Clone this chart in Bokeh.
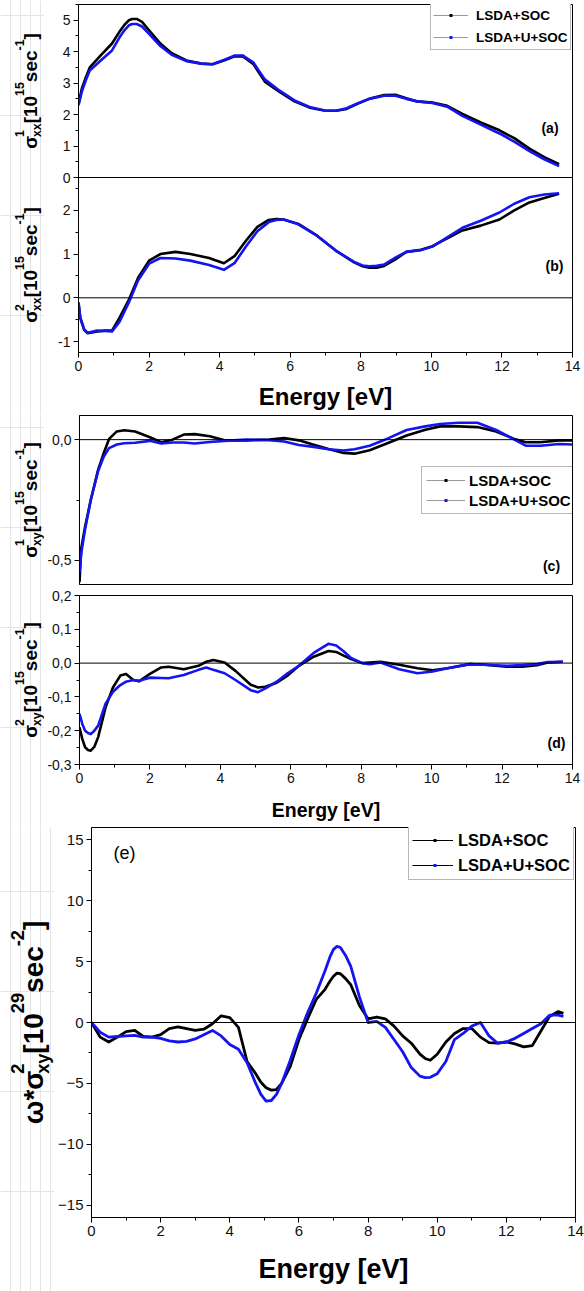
import math
from bokeh.plotting import figure
from bokeh.models import (Label, Span, Legend, LegendItem, ColumnDataSource,
                          FixedTicker, Range1d, CustomJSTickFormatter)
from bokeh.layouts import column, row
from bokeh.core.properties import value
from bokeh.embed import file_html
from bokeh.resources import INLINE

FONT = "Liberation Sans"
BLACK = "#000000"
BLUE = "#1414f0"
SERIES = ["LSDA+SOC", "LSDA+U+SOC"]
NAN = float("nan")

# ---------------- data ----------------
# (a) sigma1_xx
energy_a = [0, 0.1, 0.21, 0.32, 0.63, 0.95, 1.16, 1.3, 1.43, 1.52, 1.65, 1.8, 2.0, 2.32, 2.64,
            3.06, 3.48, 3.8, 4.12, 4.43, 4.65, 4.96, 5.28, 5.7, 6.12, 6.55, 6.97, 7.3, 7.6, 7.92,
            8.24, 8.66, 8.98, 9.29, 9.6, 10.03, 10.45, 10.88, 11.4, 11.93, 12.35, 12.78, 13.2,
            13.62]
a_lsda = [2.34, 2.85, 3.19, 3.5, 3.88, 4.26, 4.63, 4.85, 5.0, 5.04, 5.04, 4.95, 4.68, 4.26, 3.95,
          3.72, 3.62, 3.6, 3.72, 3.85, 3.86, 3.6, 3.05, 2.72, 2.42, 2.22, 2.13, 2.12, 2.18, 2.35,
          2.5, 2.62, 2.63, 2.52, 2.42, 2.38, 2.28, 2.02, 1.75, 1.5, 1.25, 0.92, 0.65, 0.42]
a_lsdau = [2.3, 2.75, 3.1, 3.4, 3.72, 4.04, 4.45, 4.68, 4.84, 4.88, 4.88, 4.8, 4.57, 4.18, 3.9,
           3.7, 3.62, 3.6, 3.74, 3.88, 3.88, 3.65, 3.12, 2.76, 2.45, 2.24, 2.13, 2.12, 2.2, 2.36,
           2.5, 2.6, 2.6, 2.5, 2.42, 2.37, 2.25, 1.96, 1.68, 1.4, 1.14, 0.84, 0.58, 0.36]

# (b) sigma2_xx
energy_b = [0, 0.05, 0.16, 0.26, 0.53, 0.74, 0.95, 1.16, 1.43, 1.69, 2.0, 2.32, 2.75, 3.17, 3.7,
            4.12, 4.43, 4.75, 5.07, 5.39, 5.6, 5.81, 6.23, 6.76, 7.29, 7.81, 8.05, 8.24, 8.45, 8.66,
            8.98, 9.29, 9.71, 10.03, 10.45, 10.88, 11.4, 11.93, 12.35, 12.78, 13.2, 13.62]
b_lsda = [-0.12, -0.46, -0.73, -0.81, -0.77, -0.75, -0.75, -0.46, -0.04, 0.46, 0.85, 1.0, 1.05,
          1.0, 0.91, 0.79, 0.96, 1.31, 1.62, 1.78, 1.8, 1.79, 1.69, 1.42, 1.08, 0.81, 0.72, 0.69,
          0.69, 0.73, 0.88, 1.05, 1.1, 1.18, 1.36, 1.54, 1.65, 1.79, 2.0, 2.18, 2.28, 2.38]
b_lsdau = [-0.1, -0.45, -0.72, -0.8, -0.75, -0.76, -0.77, -0.55, -0.1, 0.4, 0.78, 0.91, 0.9,
           0.85, 0.75, 0.64, 0.8, 1.18, 1.52, 1.73, 1.78, 1.79, 1.68, 1.42, 1.08, 0.82, 0.74, 0.72,
           0.73, 0.76, 0.92, 1.05, 1.09, 1.17, 1.38, 1.6, 1.76, 1.95, 2.15, 2.3, 2.36, 2.39]

# (c) sigma1_xy
energy_c = [0, 0.05, 0.16, 0.32, 0.53, 0.69, 0.84, 1.06, 1.27, 1.58, 2.0, 2.32, 2.64, 2.96, 3.27,
            3.7, 4.12, 4.75, 5.39, 5.81, 6.23, 6.65, 7.07, 7.5, 7.81, 8.24, 8.76, 9.29, 9.82,
            10.24, 10.77, 11.3, 11.83, 12.35, 12.67, 13.1, 13.62, 14.0]
c_lsda = [-0.59, -0.45, -0.36, -0.25, -0.124, -0.055, 0.003, 0.034, 0.039, 0.034, 0.01, -0.011,
          0.0, 0.021, 0.023, 0.014, -0.003, -0.003, 0.0, 0.007, -0.003, -0.021, -0.039, -0.055,
          -0.058, -0.044, -0.014, 0.017, 0.041, 0.055, 0.055, 0.052, 0.034, 0.003, -0.011,
          -0.011, -0.003, -0.003]
c_lsdau = [-0.55, -0.47, -0.37, -0.25, -0.13, -0.07, -0.035, -0.02, -0.015, -0.013, -0.005,
           -0.016, -0.012, -0.012, -0.016, -0.01, -0.005, 0.0, -0.002, -0.008, -0.022, -0.03,
           -0.04, -0.045, -0.04, -0.025, 0.005, 0.04, 0.055, 0.065, 0.07, 0.07, 0.04, 0.0,
           -0.025, -0.025, -0.018, -0.02]

# (d) sigma2_xy
energy_d = [0, 0.08, 0.16, 0.24, 0.32, 0.42, 0.53, 0.74, 0.95, 1.16, 1.32, 1.53, 1.69, 2.0, 2.32,
            2.53, 2.96, 3.38, 3.6, 3.8, 4.12, 4.43, 4.86, 5.07, 5.28, 5.6, 5.91, 6.23, 6.65, 7.07,
            7.29, 7.5, 7.71, 8.03, 8.24, 8.55, 9.08, 9.6, 10.03, 10.45, 11.09, 11.5, 12.14, 12.57,
            12.99, 13.3, 13.73]
d_lsda = [-0.19, -0.225, -0.249, -0.257, -0.259, -0.248, -0.219, -0.131, -0.072, -0.037, -0.032,
          -0.05, -0.054, -0.032, -0.013, -0.011, -0.018, -0.008, 0.004, 0.009, 0.002, -0.023,
          -0.064, -0.072, -0.07, -0.058, -0.037, -0.008, 0.019, 0.036, 0.033, 0.022, 0.012, 0.0,
          0.002, 0.004, -0.005, -0.015, -0.021, -0.015, -0.003, -0.005, -0.011, -0.011, -0.006,
          0.002, 0.004]
d_lsdau = [-0.15, -0.18, -0.2, -0.207, -0.21, -0.2, -0.185, -0.12, -0.085, -0.065, -0.055, -0.05,
           -0.052, -0.043, -0.044, -0.045, -0.035, -0.02, -0.013, -0.02, -0.03, -0.05, -0.08,
           -0.086, -0.075, -0.055, -0.03, -0.008, 0.03, 0.057, 0.052, 0.035, 0.015, 0.0, -0.003,
           0.002, -0.018, -0.03, -0.025, -0.015, -0.003, -0.005, -0.008, -0.006, -0.003, 0.003,
           0.004]

# (e) omega * sigma2_xy
energy_e = [0, 0.25, 0.5, 0.75, 1.0, 1.25, 1.5, 1.75, 2.0, 2.25, 2.5, 2.75, 3.0, 3.25, 3.5, 3.75,
            4.0, 4.25, 4.5, 4.75, 4.9, 5.05, 5.2, 5.35, 5.5, 5.75, 6.0, 6.25, 6.5, 6.75, 6.9, 7.0,
            7.1, 7.2, 7.35, 7.5, 7.75, 8.0, 8.25, 8.5, 8.75, 9.0, 9.25, 9.5, 9.65, 9.8, 10.0,
            10.25, 10.5, 10.75, 11.0, 11.25, 11.5, 11.75, 12.0, 12.25, 12.5, 12.75, 13.0, 13.25,
            13.5, 13.65]
e_lsda = [0, -1.2, -1.6, -1.2, -0.75, -0.65, -1.15, -1.2, -1.0, -0.5, -0.35, -0.5, -0.65, -0.55,
          -0.1, 0.55, 0.4, -0.4, -3.2, -4.2, -4.9, -5.35, -5.55, -5.5, -5.0, -3.6, -1.4, 0.3, 1.9,
          2.7, 3.4, 3.8, 4.05, 4.0, 3.6, 3.1, 1.4, 0.3, 0.45, 0.3, -0.3, -1.1, -1.7, -2.6, -2.95,
          -3.1, -2.6, -1.6, -0.9, -0.5, -0.5, -1.2, -1.65, -1.7, -1.6, -1.75, -2.0, -1.9, -0.7,
          0.5, 0.9, 0.75]
e_lsdau = [0, -0.8, -1.2, -1.15, -1.1, -1.05, -1.2, -1.2, -1.3, -1.5, -1.6, -1.55, -1.35, -1.0,
           -0.65, -1.1, -1.8, -2.2, -3.3, -5.0, -5.9, -6.45, -6.4, -5.9, -5.0, -3.1, -1.0, 0.8,
           2.4, 4.2, 5.4, 6.0, 6.25, 6.15, 5.5, 4.6, 2.1, 0.0, 0.1, -0.4, -1.4, -2.4, -3.7, -4.4,
           -4.52, -4.5, -4.2, -3.2, -1.4, -0.9, -0.3, 0.0, -1.1, -1.7, -1.6, -1.3, -0.9, -0.5,
           -0.1, 0.6, 0.6, 0.5]

X_TICKS = [0, 2, 4, 6, 8, 10, 12, 14]
X_MINOR = [1, 3, 5, 7, 9, 11, 13]
A_TICKS = [0, 1, 2, 3, 4, 5]
A_MINOR = [0.5, 1.5, 2.5, 3.5, 4.5, 5.5]
B_TICKS = [-1, 0, 1, 2]
B_MINOR = [-0.5, 0.5, 1.5, 2.5]

# Arial-bold-like advance widths (em)
CW = {'σ': 0.62, 'ω': 0.79, '*': 0.39, '[': 0.333, ']': 0.333, '-': 0.333}


def text_w(s, size):
    return sum(CW.get(ch, 0.556) for ch in s) * size


def style_axis(ax, ticks, minor, size="14px", fmt=None, overrides=None):
    ax.ticker = FixedTicker(ticks=ticks, minor_ticks=minor)
    ax.major_tick_out = 5
    ax.major_tick_in = 0
    ax.minor_tick_out = 3
    ax.minor_tick_in = 0
    ax.axis_line_color = "black"
    ax.major_tick_line_color = "black"
    ax.minor_tick_line_color = "black"
    ax.major_label_text_font = FONT
    ax.major_label_text_font_size = size
    ax.major_label_text_color = "#111111"
    ax.major_label_standoff = 3
    ax.axis_label = None
    if fmt is not None:
        ax.formatter = fmt
    if overrides is not None:
        ax.major_label_overrides = overrides


def set_xlabel(ax, size, standoff):
    ax.axis_label = "Energy [eV]"
    ax.axis_label_text_font = FONT
    ax.axis_label_text_font_style = "bold"
    ax.axis_label_text_font_size = size
    ax.axis_label_text_color = "black"
    ax.axis_label_standoff = standoff


def make_fig(width, height, left, right, top, bottom, yr, xaxis):
    p = figure(width=width, height=height, x_range=Range1d(0, 14), y_range=Range1d(*yr),
               output_backend="svg", toolbar_location=None,
               x_axis_location="below" if xaxis else None,
               min_border_left=left, min_border_right=right,
               min_border_top=top, min_border_bottom=bottom, frame_align=False)
    p.xgrid.visible = False
    p.ygrid.visible = False
    p.outline_line_color = "black"
    p.outline_line_alpha = 1.0
    p.outline_line_width = 1
    p.background_fill_color = "white"
    p.border_fill_color = "white"
    return p


def make_strip(w, h):
    s = figure(width=w, height=h, x_range=Range1d(0, w), y_range=Range1d(0, h),
               output_backend="svg", toolbar_location=None,
               x_axis_location=None, y_axis_location=None,
               min_border_left=0, min_border_right=0, min_border_top=0, min_border_bottom=0,
               frame_align=False)
    s.outline_line_color = None
    s.background_fill_color = "white"
    s.border_fill_color = "white"
    return s


def add_curves(p, x, y1, y2, width=2.6, rng="default"):
    p.line(x, y1, line_color=BLACK, line_width=width, line_join="round", y_range_name=rng)
    p.line(x, y2, line_color=BLUE, line_width=width, line_join="round", y_range_name=rng)


def zero_line(p, rng="default"):
    p.add_layout(Span(location=0, dimension="width", line_color="black", line_width=1,
                      y_range_name=rng))


def vlabel(s, strip_h, y_top, center_y, base_x, groups, size):
    """Rotated composite label; center_y / base_x (text baseline) in page pixels."""
    small = size * 0.65
    sizes = {'main': size, 'sup': small, 'sub': small}
    shifts = {'main': 0.0, 'sup': -0.70 * size, 'sub': 0.20 * size}
    total = sum(max(text_w(t, sizes[k]) for t, k in g) for g in groups)
    y = center_y + total / 2.0
    xs, ys, ts, fs = [], [], [], []
    for g in groups:
        adv = 0
        for t, k in g:
            xs.append(base_x + shifts[k] - 0.35 * sizes[k])
            ys.append(strip_h - (y - y_top))
            ts.append(t)
            fs.append(f"{sizes[k]:.1f}px")
            adv = max(adv, text_w(t, sizes[k]))
        y -= adv
    src = ColumnDataSource(data=dict(x=xs, y=ys, t=ts, fs=fs))
    s.text(x="x", y="y", text="t", source=src, angle=math.pi / 2,
           text_font=value(FONT), text_font_style="bold", text_font_size="fs",
           text_align="left", text_baseline="middle", text_color="black")


def tag(p, x, y, text, size="14px", style="bold"):
    p.add_layout(Label(x=x, y=y, x_units="screen", y_units="screen", text=text,
                       text_font=FONT, text_font_style=style, text_font_size=size,
                       text_align="center", text_baseline="middle", text_color="black"))


def legend(p, loc, gw, gh, pad, spacing, standoff, fsize, line_col, dot_dash):
    items = []
    for name, col in zip(SERIES, [BLACK, BLUE]):
        src = ColumnDataSource(data=dict(x=[NAN], y=[NAN]))
        r1 = p.line("x", "y", source=src, line_color=line_col, line_width=1)
        r2 = p.line("x", "y", source=src, line_color=col, line_width=3, line_dash=dot_dash)
        items.append(LegendItem(label=name, renderers=[r1, r2]))
    lg = Legend(items=items, location=loc, glyph_width=gw, glyph_height=gh, label_height=gh,
                padding=pad, spacing=spacing, label_standoff=standoff, margin=0,
                label_text_font=FONT, label_text_font_style="bold",
                label_text_font_size=fsize, label_text_color="black",
                border_line_color="#707070", border_line_width=1,
                background_fill_color="white", background_fill_alpha=1.0)
    p.add_layout(lg)


comma = CustomJSTickFormatter(code="return tick.toFixed(1).replace('.', ',');")

SIG_XX1 = [[('σ', 'main')], [('1', 'sup'), ('xx', 'sub')], [('[10', 'main')], [('15', 'sup')],
           [('sec', 'main')], [('-1', 'sup')], [(']', 'main')]]
SIG_XX2 = [[('σ', 'main')], [('2', 'sup'), ('xx', 'sub')], [('[10', 'main')], [('15', 'sup')],
           [('sec', 'main')], [('-1', 'sup')], [(']', 'main')]]
SIG_XY1 = [[('σ', 'main')], [('1', 'sup'), ('xy', 'sub')], [('[10', 'main')], [('15', 'sup')],
           [('sec', 'main')], [('-1', 'sup')], [(']', 'main')]]
SIG_XY2 = [[('σ', 'main')], [('2', 'sup'), ('xy', 'sub')], [('[10', 'main')], [('15', 'sup')],
           [('sec', 'main')], [('-1', 'sup')], [(']', 'main')]]
OM_SIG = [[('ω*σ', 'main')], [('2', 'sup'), ('xy', 'sub')], [('[10', 'main')], [('29', 'sup')],
          [('sec', 'main')], [('-2', 'sup')], [(']', 'main')]]

# ---------------- group 1: (a) + (b) in one frame ----------------
S1W = 44
PX_A, PX_B = 173.0, 175.0                 # pixel heights of panel (a) and (b)
B_LO, B_HI0 = -1.25, 2.75                  # panel (b) value range
A_LO0, A_HI = 0.0, 5.5                     # panel (a) value range
b_hi = B_HI0 + (B_HI0 - B_LO) * PX_A / PX_B          # primary range top
a_lo = A_HI - (A_HI - A_LO0) * (PX_A + PX_B) / PX_A  # extra range bottom


def a_to_b(v):
    return B_LO + (v - a_lo) / (A_HI - a_lo) * (b_hi - B_LO)


pab = make_fig(584 - S1W, 415, 78 - S1W, 12, 4, 63, (B_LO, b_hi), True)
pab.extra_y_ranges = {"a": Range1d(a_lo, A_HI)}
yt = B_TICKS + [a_to_b(v) for v in A_TICKS]
ym = B_MINOR + [a_to_b(v) for v in A_MINOR]
ov = {a_to_b(v): str(v) for v in A_TICKS}
ov.update({float(v): str(v) for v in B_TICKS})
style_axis(pab.yaxis[0], yt, ym, overrides=ov)
style_axis(pab.xaxis[0], X_TICKS, X_MINOR)
set_xlabel(pab.xaxis[0], "24px", 9)
zero_line(pab)              # sigma2_xx = 0
zero_line(pab, "a")         # panel separator (sigma1_xx = 0)
add_curves(pab, energy_b, b_lsda, b_lsdau)
add_curves(pab, energy_a, a_lsda, a_lsdau, rng="a")
legend(pab, (352, 302), 35, 20, 2, 2, 8, "13.5px", "#9a9a9a", "0 16 3 100")
tag(pab, 471.5, 225, "(a)")
tag(pab, 476, 87, "(b)")

s1 = make_strip(S1W, 415)
vlabel(s1, 415, 0, 90.5, 37, SIG_XX1, 19)
vlabel(s1, 415, 0, 264.5, 37, SIG_XX2, 19)

# ---------------- group 2: (c) + (d) ----------------
pc = make_fig(584 - S1W, 172, 78 - S1W, 12, 0, 3, (-0.6, 0.1), False)
style_axis(pc.yaxis[0], [-0.5, 0.0], [-0.25], fmt=comma)
zero_line(pc)
add_curves(pc, energy_c, c_lsda, c_lsdau)
legend(pc, (342, 70), 39, 18, 4, 2, 4, "15px", "#9a9a9a", "0 18 3 100")
tag(pc, 472, 19, "(c)")

pd_ = make_fig(584 - S1W, 240, 78 - S1W, 12, 8, 63, (-0.3, 0.2), True)
style_axis(pd_.yaxis[0], [-0.3, -0.2, -0.1, 0.0, 0.1, 0.2],
           [-0.25, -0.15, -0.05, 0.05, 0.15], fmt=comma)
style_axis(pd_.xaxis[0], X_TICKS, X_MINOR)
set_xlabel(pd_.xaxis[0], "19.5px", 13)
zero_line(pd_)
add_curves(pd_, energy_d, d_lsda, d_lsdau)
tag(pd_, 477, 21.5, "(d)")

s2 = make_strip(S1W, 412)
vlabel(s2, 412, 415, 499.5, 37, SIG_XY1, 19)
vlabel(s2, 412, 415, 679.5, 37, SIG_XY2, 19)

# ---------------- group 3: (e) ----------------
S3W = 54
pe = make_fig(584 - S3W, 464, 91 - S3W, 9, 0, 74, (-16, 16), True)
style_axis(pe.yaxis[0], [-15, -10, -5, 0, 5, 10, 15], [-12.5, -7.5, -2.5, 2.5, 7.5, 12.5],
           size="15px")
style_axis(pe.xaxis[0], X_TICKS, X_MINOR, size="15px")
set_xlabel(pe.xaxis[0], "27px", 15)
zero_line(pe)
add_curves(pe, energy_e, e_lsda, e_lsdau, width=2.8)
legend(pe, (317, 337), 41, 22, 3, 3, 5, "16.5px", "#000000", "0 21 3 100")
tag(pe, 33, 365, "(e)", size="18px", style="normal")

s3 = make_strip(S3W, 464)
vlabel(s3, 464, 827, 1022, 43, OM_SIG, 28)

layout = column(
    row(s1, pab, spacing=0),
    row(s2, column(pc, pd_, spacing=0), spacing=0),
    row(s3, pe, spacing=0),
    spacing=0,
)
open("out.html", "w").write(file_html(layout, INLINE))
